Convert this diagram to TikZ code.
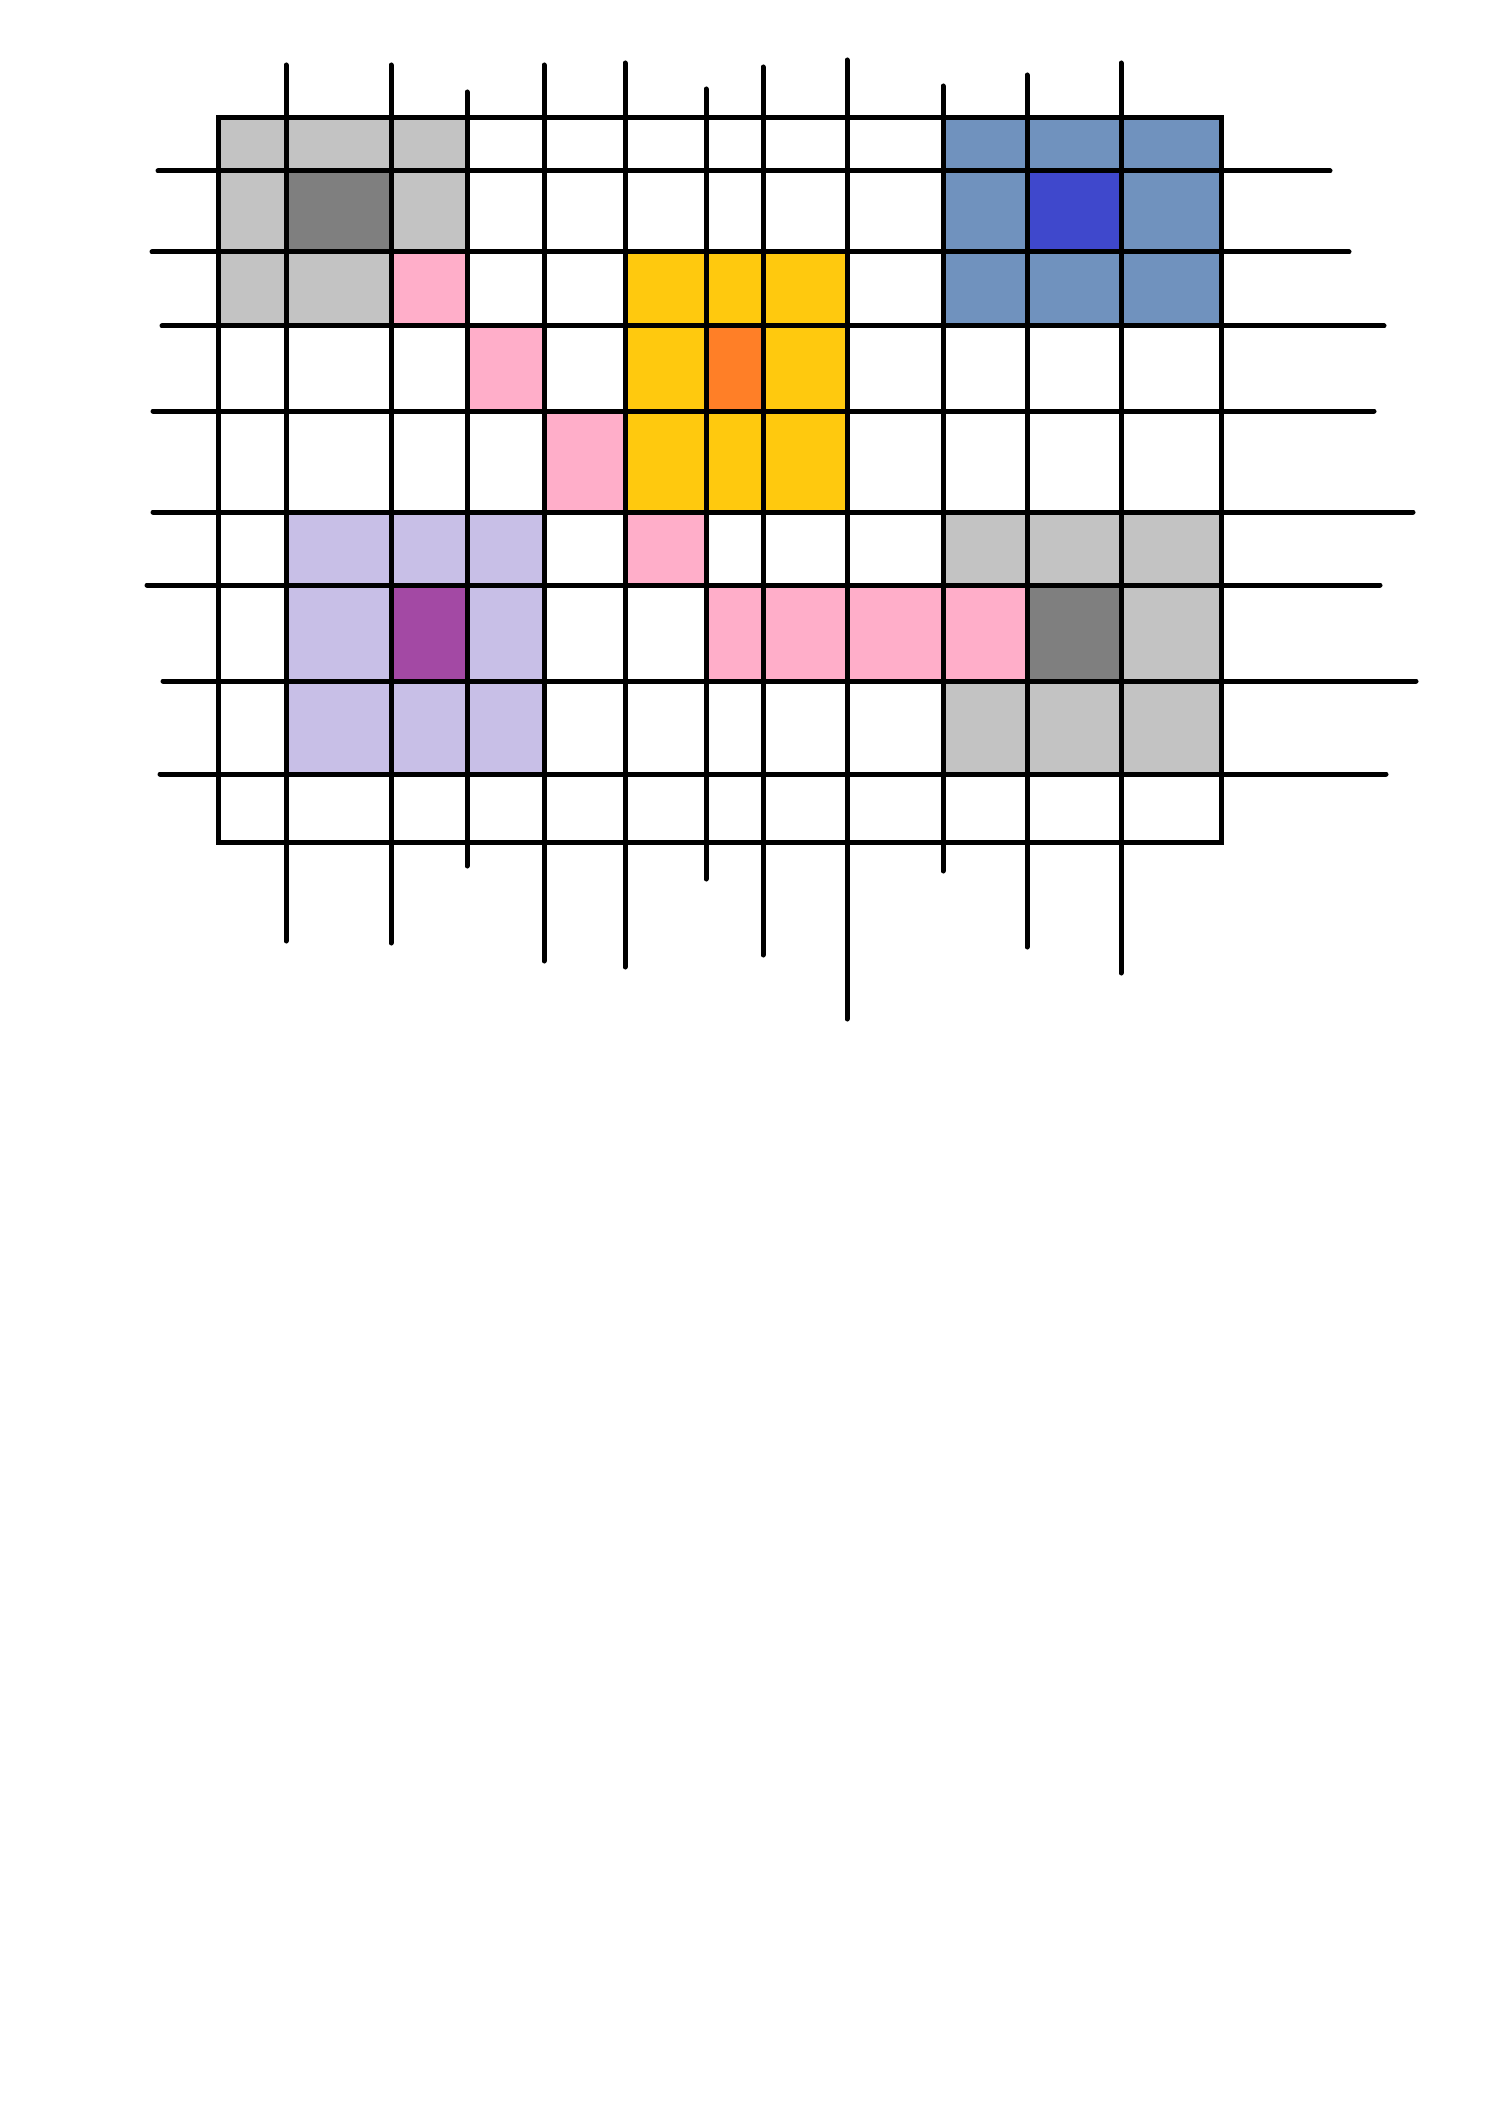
\documentclass[tikz,border=0pt]{standalone}
\definecolor{lgray}{HTML}{C3C3C3}
\definecolor{dgray}{HTML}{7F7F7F}
\definecolor{pinkc}{HTML}{FFAEC9}
\definecolor{yellowc}{HTML}{FFC90E}
\definecolor{orangec}{HTML}{FF7F27}
\definecolor{bluec}{HTML}{7092BE}
\definecolor{dbluec}{HTML}{3F48CC}
\definecolor{lavc}{HTML}{C8BFE7}
\definecolor{purpc}{HTML}{A349A4}
\tikzset{gridline/.style={line width=5pt,line cap=round,black},
  border/.style={line width=5pt,black}}
\begin{document}
\begin{tikzpicture}[x=1pt,y=-1pt]
\useasboundingbox[fill=white] (0,0) rectangle (1496,2124);
% fills
\fill[lgray] (218,118) rectangle (467,326);
\fill[dgray] (286,171) rectangle (391,252);
\fill[bluec] (943,118) rectangle (1221,326);
\fill[dbluec] (1027,171) rectangle (1121,252);
\fill[yellowc] (625,252) rectangle (847,512);
\fill[orangec] (706,326) rectangle (763,411);
\fill[lavc] (286,512) rectangle (544,774);
\fill[purpc] (391,585) rectangle (467,681);
\fill[lgray] (943,512) rectangle (1221,774);
\fill[dgray] (1027,585) rectangle (1121,681);
\fill[pinkc] (391,252) rectangle (467,326);
\fill[pinkc] (467,326) rectangle (544,411);
\fill[pinkc] (544,411) rectangle (625,512);
\fill[pinkc] (625,512) rectangle (706,585);
\fill[pinkc] (706,585) rectangle (1027,681);
% vertical lines
\foreach \x/\a/\b in {286/65/941,391/65/943,467/92/866,544/65/961,625/63/967,706/89/879,763/67/955,847/60/1019,943/86/871,1027/75/947,1121/63/973}
  \draw[gridline] (\x,\a) -- (\x,\b);
% horizontal lines
\foreach \y/\a/\b in {171/158/1330,252/152/1349,326/162/1384,411/153/1374,512/153/1413,585/147/1380,681/163/1416,774/160/1386}
  \draw[gridline] (\a,\y) -- (\b,\y);
% outer border
\draw[border] (218,118) rectangle (1221,842);
\end{tikzpicture}
\end{document}
